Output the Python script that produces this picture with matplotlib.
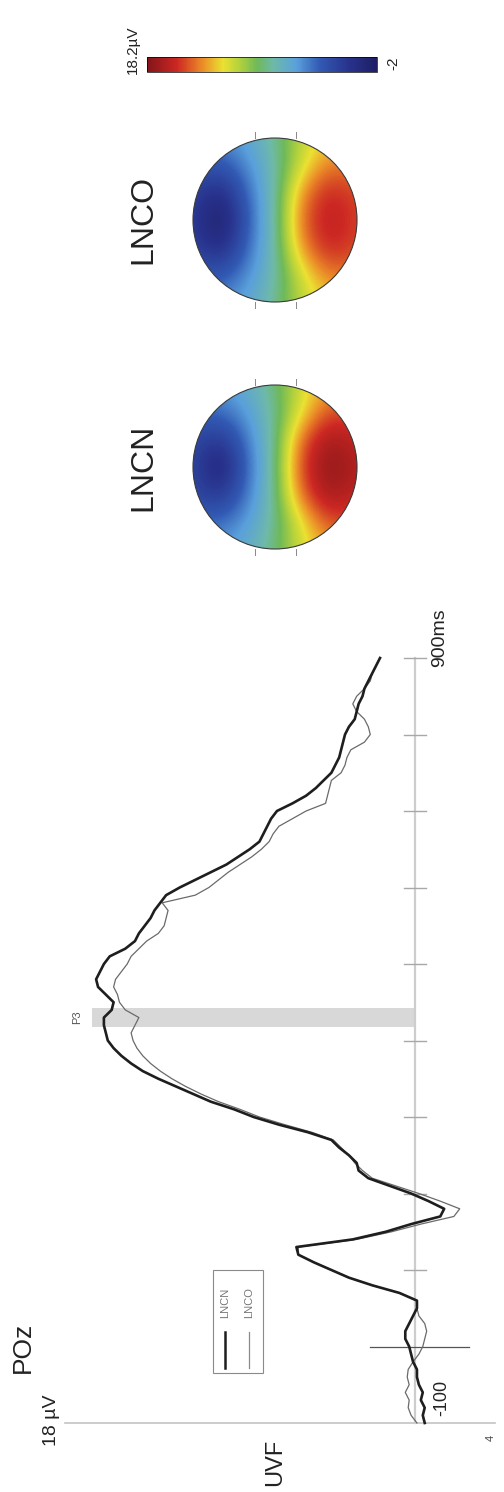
import numpy as np
import matplotlib
matplotlib.use('Agg')
import matplotlib.pyplot as plt
import matplotlib.patches as patches
from matplotlib.colors import LinearSegmentedColormap, Normalize
from matplotlib.colorbar import ColorbarBase

plt.rcParams['font.family'] = ['Liberation Sans', 'DejaVu Sans']

# ERP at POz, sampled every 10 ms from -100 to 900 ms (uV)
times = np.arange(-100, 901, 10)
lncn = [-0.5, -0.4, -0.5, -0.3, -0.4, -0.2, -0.1, -0.1, 0.1, 0.2,
        0.3, 0.5, 0.5, 0.3, 0.1, -0.1, -0.1, 0.8, 2.2, 3.4,
        4.3, 5.2, 6.0, 6.1, 3.2, 1.5, 0.2, -1.3, -1.5, -0.7,
        0.2, 1.3, 2.4, 2.9, 3.0, 3.4, 3.9, 4.3, 5.5, 7.0,
        8.3, 9.3, 10.5, 11.4, 12.3, 13.2, 14.0, 14.6, 15.1, 15.5,
        15.8, 15.9, 16.0, 16.0, 15.6, 15.5, 15.9, 16.3, 16.4, 16.2,
        16.0, 15.7, 14.9, 14.4, 14.2, 13.9, 13.6, 13.4, 13.1, 12.8,
        12.1, 11.3, 10.5, 9.7, 9.1, 8.5, 8.0, 7.8, 7.6, 7.4,
        7.1, 6.3, 5.6, 5.1, 4.7, 4.3, 4.1, 3.9, 3.8, 3.7,
        3.6, 3.4, 3.1, 3.0, 2.9, 2.7, 2.6, 2.4, 2.2, 2.0,
        1.8]
lnco = [-0.1, 0.2, 0.35, 0.3, 0.5, 0.3, 0.4, 0.35, 0.1, -0.2,
        -0.4, -0.5, -0.6, -0.5, -0.2, -0.1, -0.1, 0.8, 2.2, 3.4,
        4.3, 5.2, 6.0, 6.0, 3.0, 1.2, -0.3, -2.0, -2.3, -1.3,
        -0.2, 1.0, 2.2, 2.7, 3.1, 3.4, 3.8, 4.2, 5.3, 6.7,
        8.0, 9.0, 10.1, 11.0, 11.8, 12.5, 13.1, 13.6, 14.0, 14.3,
        14.5, 14.6, 14.4, 14.2, 14.9, 15.2, 15.3, 15.5, 15.4, 15.1,
        14.8, 14.6, 14.2, 13.8, 13.2, 12.9, 12.8, 12.7, 13.0, 11.3,
        10.6, 10.1, 9.6, 9.0, 8.4, 7.9, 7.5, 7.3, 7.0, 6.3,
        5.6, 4.6, 4.5, 4.4, 4.3, 3.8, 3.6, 3.5, 3.3, 2.6,
        2.3, 2.4, 2.6, 3.0, 3.2, 3.0, 2.6, 2.3, 2.2, 2.0,
        1.8]
time_ticks = [100, 200, 300, 400, 500, 600, 700, 800, 900]
p3_window = [417, 442]
p3_height = 16.6

# topography values on a 7x7 grid (rows top->bottom, cols left->right, as printed)
topo_lncn = [[4.5, 5.0, 6.0, 8.0, 11.0, 13.0, 12.5],
             [3.5, 3.5, 5.0, 7.5, 11.5, 15.0, 14.5],
             [2.0, 0.5, 4.0, 7.5, 14.5, 17.3, 16.0],
             [1.8, -1.5, 3.5, 7.5, 15.5, 17.8, 16.5],
             [2.0, 0.5, 4.0, 7.5, 14.5, 17.3, 16.0],
             [3.5, 3.5, 5.0, 7.5, 11.5, 15.0, 14.5],
             [4.5, 5.0, 6.0, 8.0, 11.0, 13.0, 12.5]]
topo_lnco = [[4.0, 4.5, 5.5, 7.5, 10.5, 12.0, 11.5],
             [3.0, 2.5, 4.5, 7.0, 11.0, 14.0, 13.5],
             [1.5, -0.5, 3.5, 7.0, 13.5, 16.0, 14.8],
             [1.2, -2.0, 3.0, 7.0, 14.5, 16.4, 15.0],
             [1.5, -0.5, 3.5, 7.0, 13.5, 16.0, 14.8],
             [3.0, 2.5, 4.5, 7.0, 11.0, 14.0, 13.5],
             [4.0, 4.5, 5.5, 7.5, 10.5, 12.0, 11.5]]
vmin, vmax = -2, 18.2

W, H = 504, 1492
fig = plt.figure(figsize=(W / 100, H / 100), dpi=100)
fig.patch.set_facecolor('white')

# overlay in pixel coords for labels
ov = fig.add_axes([0, 0, 1, 1])
ov.set_xlim(0, W)
ov.set_ylim(H, 0)
ov.axis('off')


def fig_rect(x0, y0, x1, y1):
    return [x0 / W, (H - y1) / H, (x1 - x0) / W, (y1 - y0) / H]


# ---- ERP waveform (figure is turned: voltage runs leftward, time runs upward)
ax = fig.add_axes(fig_rect(65, 658, 495, 1423))
ax.set_xlim(18, -4.114)
ax.set_ylim(-100, 900)
ax.axis('off')

ax.plot([18, -4.114], [-100, -100], color='#c4c4c4', lw=1.2, clip_on=False)
ax.plot([0, 0], [-100, 900], color='#cdcdcd', lw=1.6, clip_on=False)
for t in time_ticks:
    ax.plot([0.55, -0.55], [t, t], color='#a8a8a8', lw=1.0, clip_on=False)
ax.plot([2.3, -2.8], [0, 0], color='#555555', lw=0.9, clip_on=False)

ax.fill_betweenx(p3_window, 0, p3_height, color='#d8d8d8', lw=0, zorder=1)
ax.plot(lnco, times, color='#6a6a6a', lw=0.9, zorder=3, clip_on=False)
ax.plot(lncn, times, color='#1e1e1e', lw=1.9, zorder=4, clip_on=False)

ax.text(17.4, 430, 'P3', rotation=90, ha='center', va='center', fontsize=8, color='#555555')

# legend box
ov.add_patch(patches.Rectangle((213, 1270), 50, 103, fill=False, ec='#8a8a8a', lw=0.8))
ov.plot([225, 225], [1332, 1368], color='#1e1e1e', lw=1.8)
ov.plot([249, 249], [1332, 1368], color='#8a8a8a', lw=0.9)
ov.text(225, 1303, 'LNCN', rotation=90, ha='center', va='center', fontsize=8, color='#777777')
ov.text(249, 1303, 'LNCO', rotation=90, ha='center', va='center', fontsize=8, color='#777777')

ov.text(23, 1347, 'POz', rotation=90, ha='center', va='center', fontsize=19, color='#222222')
ov.text(52, 1420, '18 µV', rotation=90, ha='center', va='center', fontsize=14, color='#222222')
ov.text(275, 1462, 'UVF', rotation=90, ha='center', va='center', fontsize=17, color='#222222')
ov.text(442, 1398, '-100', rotation=90, ha='center', va='center', fontsize=13, color='#222222')
ov.text(440, 638, '900ms', rotation=90, ha='center', va='center', fontsize=14, color='#222222')
ov.text(491, 1438, '4', rotation=90, ha='center', va='center', fontsize=8, color='#444444')

# ---- topographies
cmap = LinearSegmentedColormap.from_list('topo', [
    (0.00, '#1e1e64'), (0.12, '#28328c'), (0.25, '#325ab4'), (0.35, '#5aa0dc'),
    (0.45, '#6eb9aa'), (0.52, '#6eb95a'), (0.60, '#b4d23c'), (0.67, '#ebe132'),
    (0.76, '#eb8c28'), (0.87, '#cd2823'), (1.00, '#821419')])
norm = Normalize(vmin, vmax)

half = 95 / 82
for grid, cy, name in [(topo_lnco, 220, 'LNCO'), (topo_lncn, 467, 'LNCN')]:
    tax = fig.add_axes(fig_rect(275 - 95, cy - 95, 275 + 95, cy + 95))
    tax.set_xlim(-half, half)
    tax.set_ylim(-half, half)
    tax.axis('off')
    e = 7 / 6
    im = tax.imshow(np.array(grid), cmap=cmap, norm=norm, extent=[-e, e, -e, e],
                    origin='upper', interpolation='bicubic', interpolation_stage='data')
    head = patches.Circle((0, 0), 1, transform=tax.transData)
    im.set_clip_path(head)
    tax.add_patch(patches.Circle((0, 0), 1, fill=False, ec='#3a3a3a', lw=0.8))
    for u in (-0.24, 0.25):
        tax.plot([u, u], [1.0, 1.07], color='#888888', lw=0.7)
        tax.plot([u, u], [-1.0, -1.07], color='#888888', lw=0.7)
    ov.text(143, cy, name, rotation=90, ha='center', va='center', fontsize=23, color='#222222')

# ---- colour bar (high values on the left)
cax = fig.add_axes(fig_rect(147, 57, 377, 72))
cb = ColorbarBase(cax, cmap=cmap, norm=norm, orientation='horizontal')
cax.invert_xaxis()
cb.set_ticks([])
cb.outline.set_linewidth(0.5)
ov.text(133, 50, '18.2µV', rotation=90, ha='center', va='center', fontsize=11, color='#222222')
ov.text(393, 63, '-2', rotation=90, ha='center', va='center', fontsize=11, color='#222222')

fig.savefig('out.png', dpi=100, facecolor='white')
